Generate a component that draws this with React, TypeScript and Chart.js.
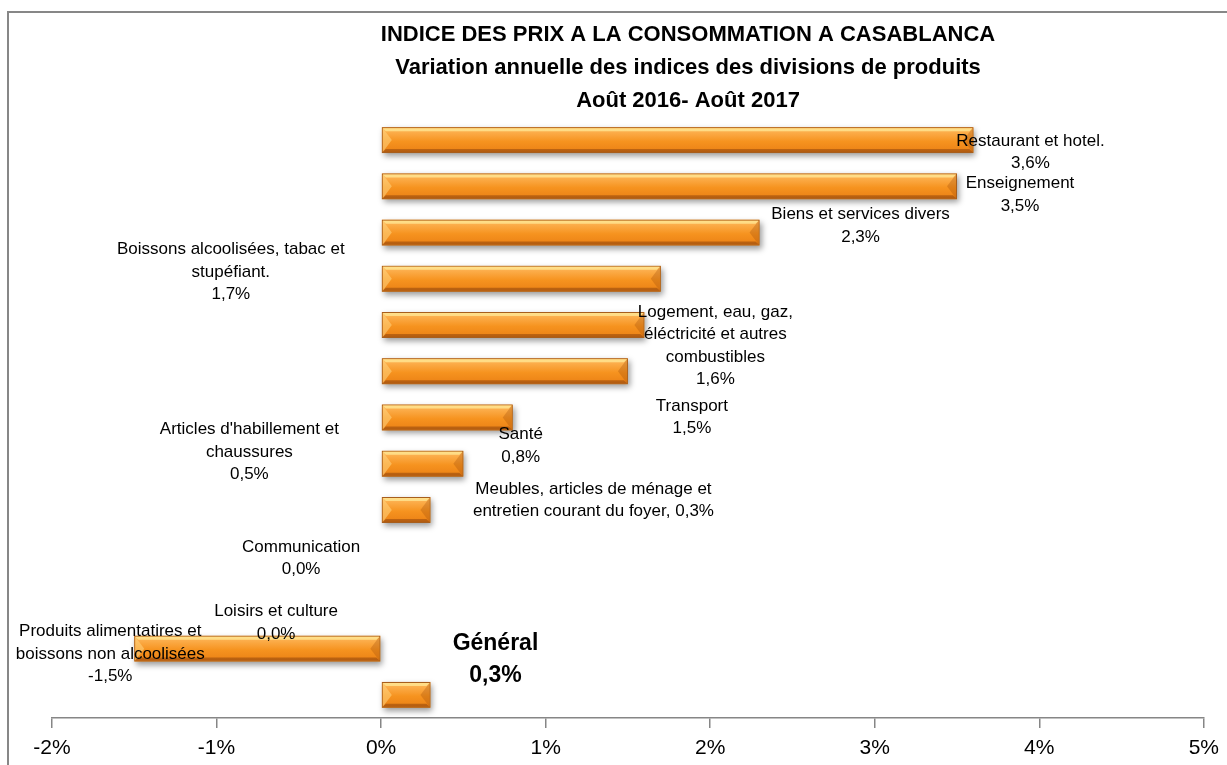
import React, { useEffect, useRef } from "react";
import { Chart, registerables } from "chart.js";

Chart.register(...registerables);

// ---------- DATA ----------
const CATEGORIES = [
  "Restaurant et hotel.",
  "Enseignement",
  "Biens et services divers",
  "Boissons alcoolisées, tabac et stupéfiant.",
  "Logement, eau, gaz, éléctricité et autres combustibles",
  "Transport",
  "Santé",
  "Articles d'habillement et chaussures",
  "Meubles, articles de ménage et entretien courant du foyer",
  "Communication",
  "Loisirs et culture",
  "Produits alimentatires et boissons non alcoolisées",
  "Général",
];
const VALUES = [3.6, 3.5, 2.3, 1.7, 1.6, 1.5, 0.8, 0.5, 0.3, 0.0, 0.0, -1.5, 0.3];
const X_TICKS = [-2, -1, 0, 1, 2, 3, 4, 5];
const TITLE_LINES = [
  "INDICE DES PRIX A LA CONSOMMATION A CASABLANCA",
  "Variation annuelle des indices des divisions de produits",
  "Août 2016- Août 2017",
];
// category names split into the lines shown in the data labels
const LABEL_LINES = [
  ["Restaurant et hotel."],
  ["Enseignement"],
  ["Biens et services divers"],
  ["Boissons alcoolisées, tabac et", "stupéfiant."],
  ["Logement, eau, gaz,", "éléctricité et autres", "combustibles"],
  ["Transport"],
  ["Santé"],
  ["Articles d'habillement et", "chaussures"],
  ["Meubles, articles de ménage et", "entretien courant du foyer,"],
  ["Communication"],
  ["Loisirs et culture"],
  ["Produits alimentatires et", "boissons non alcoolisées"],
  ["Général"],
];

// ---------- LAYOUT / STYLE ----------
// label placement: offset (px) of the label block centre / first line from bar end
const LABEL_LAYOUT = [
  { dx: 57, dy: 1 },
  { dx: 63, dy: -3 },
  { dx: 101, dy: -18 },
  { dx: -430, dy: -29 },
  { dx: 71, dy: -13 },
  { dx: 64, dy: 35 },
  { dx: 8, dy: 17 },
  { dx: -214, dy: -34 },
  { dx: 163, dy: -21, inline: true },
  { dx: -80, dy: -9 },
  { dx: -105, dy: 9 },
  { dx: -24, dy: -17 },
  { dx: 65, dy: -51, big: true },
];
const FONT = '"Liberation Sans", Arial, sans-serif';
const BAR_PCT = 0.56;
const AXIS_COLOR = "#868686";

const fmt = (v: number) => v.toFixed(1).replace(".", ",") + "%";

const framePlugin = {
  id: "frame",
  beforeDraw(chart: any) {
    const ctx = chart.ctx;
    ctx.save();
    ctx.fillStyle = "#ffffff";
    ctx.fillRect(0, 0, chart.width, chart.height);
    ctx.strokeStyle = "#878787";
    ctx.lineWidth = 2;
    ctx.beginPath();
    ctx.moveTo(8, chart.height);
    ctx.lineTo(8, 12);
    ctx.lineTo(chart.width, 12);
    ctx.stroke();
    ctx.restore();
  },
};

const titlePlugin = {
  id: "titleLines",
  afterDraw(chart: any) {
    const ctx = chart.ctx;
    ctx.save();
    ctx.fillStyle = "#000";
    ctx.font = `bold 22px ${FONT}`;
    ctx.textAlign = "center";
    ctx.textBaseline = "middle";
    TITLE_LINES.forEach((t, i) => ctx.fillText(t, 688, 35 + i * 33));
    ctx.restore();
  },
};

const barStylePlugin = {
  id: "barStyle",
  beforeDatasetsDraw(chart: any) {
    const ctx = chart.ctx;
    const meta = chart.getDatasetMeta(0);
    ctx.save();
    ctx.shadowColor = "rgba(0,0,0,0.4)";
    ctx.shadowBlur = 6;
    ctx.shadowOffsetX = 2;
    ctx.shadowOffsetY = 3;
    ctx.fillStyle = "#d98020";
    meta.data.forEach((el: any) => {
      const L = Math.min(el.x, el.base);
      const R = Math.max(el.x, el.base);
      if (R - L < 1) return;
      ctx.fillRect(L, el.y - el.height / 2, R - L, el.height);
    });
    ctx.restore();
  },
  afterDatasetsDraw(chart: any) {
    const ctx = chart.ctx;
    const meta = chart.getDatasetMeta(0);
    ctx.save();
    meta.data.forEach((el: any) => {
      const L = Math.min(el.x, el.base) + 1;
      const R = Math.max(el.x, el.base) - 1;
      if (R - L < 2) return;
      const T = el.y - el.height / 2 + 1;
      const B = el.y + el.height / 2 - 1;
      const M = el.y;
      const s = 3;
      const c = Math.min(9, (R - L) / 2);
      const poly = (pts: number[][], color: string) => {
        ctx.beginPath();
        ctx.moveTo(pts[0][0], pts[0][1]);
        for (let i = 1; i < pts.length; i++) ctx.lineTo(pts[i][0], pts[i][1]);
        ctx.closePath();
        ctx.fillStyle = color;
        ctx.fill();
      };
      poly([[L, T], [L + c, M], [L, B]], "rgba(255,214,130,0.55)");
      poly([[R, T], [R - c, M], [R, B]], "rgba(160,75,10,0.3)");
      poly([[L, T], [R, T], [R - s, T + s], [L + s, T + s]], "rgba(255,232,150,0.75)");
      poly([[L, B], [R, B], [R - s, B - s], [L + s, B - s]], "rgba(140,65,10,0.5)");
    });
    ctx.restore();
  },
};

const labelPlugin = {
  id: "barLabels",
  afterDraw(chart: any) {
    const ctx = chart.ctx;
    const meta = chart.getDatasetMeta(0);
    ctx.save();
    ctx.fillStyle = "#000";
    ctx.textAlign = "center";
    ctx.textBaseline = "middle";
    meta.data.forEach((el: any, i: number) => {
      const lay = LABEL_LAYOUT[i];
      const lines = LABEL_LINES[i].slice();
      const val = fmt(VALUES[i]);
      if (lay.inline) lines[lines.length - 1] = lines[lines.length - 1] + " " + val;
      else lines.push(val);
      const cx = el.x + lay.dx;
      const y0 = el.y + lay.dy;
      const lh = lay.big ? 32 : 22.5;
      ctx.font = lay.big ? `bold 23px ${FONT}` : `17px ${FONT}`;
      lines.forEach((t, k) => ctx.fillText(t, cx, y0 + k * lh));
    });
    ctx.restore();
  },
};

export default function App() {
  const ref = useRef<HTMLCanvasElement | null>(null);
  useEffect(() => {
    if (!ref.current) return;
    const chart = new Chart(ref.current, {
      type: "bar",
      data: {
        labels: CATEGORIES,
        datasets: [
          {
            data: VALUES,
            backgroundColor: (ctx: any) => {
              const ch = ctx.chart;
              const ys = ch.scales && ch.scales.y;
              if (!ys || ctx.dataIndex == null || !ys.height) return "#F79646";
              const cy = ys.getPixelForValue(ctx.dataIndex);
              const h = ((ys.height / CATEGORIES.length) * BAR_PCT) / 2;
              const g = ch.ctx.createLinearGradient(0, cy - h, 0, cy + h);
              g.addColorStop(0, "#FFC96E");
              g.addColorStop(0.18, "#FCAE4C");
              g.addColorStop(0.55, "#F6931F");
              g.addColorStop(0.85, "#EE8618");
              g.addColorStop(1, "#CF6E17");
              return g;
            },
            borderColor: "#A85E1C",
            borderWidth: 1,
            borderSkipped: false,
            barPercentage: BAR_PCT,
            categoryPercentage: 1,
          },
        ],
      },
      options: {
        indexAxis: "y",
        responsive: false,
        animation: false,
        layout: { padding: { left: 52, right: 21, top: 117, bottom: 0 } },
        plugins: { legend: { display: false }, tooltip: { enabled: false }, title: { display: false } },
        scales: {
          x: {
            type: "linear",
            min: X_TICKS[0],
            max: X_TICKS[X_TICKS.length - 1],
            afterBuildTicks: (scale: any) => {
              scale.ticks = X_TICKS.map((v) => ({ value: v }));
            },
            afterFit: (scale: any) => {
              scale.height = 47;
            },
            ticks: {
              callback: (v: any) => v + "%",
              color: "#000",
              font: { family: FONT, size: 21 },
              padding: 8,
              maxRotation: 0,
            },
            grid: {
              drawOnChartArea: false,
              drawTicks: true,
              tickLength: 10,
              color: AXIS_COLOR,
              lineWidth: 1.5,
            },
            border: { display: true, color: AXIS_COLOR, width: 1.5 },
          },
          y: { display: false },
        },
      },
      plugins: [framePlugin, barStylePlugin, labelPlugin, titlePlugin],
    } as any);
    return () => chart.destroy();
  }, []);
  return (
    <div style={{ position: "absolute", left: 0, top: 0, width: 1227, height: 765 }}>
      <canvas ref={ref} width={1227} height={765} style={{ display: "block" }} />
    </div>
  );
}
